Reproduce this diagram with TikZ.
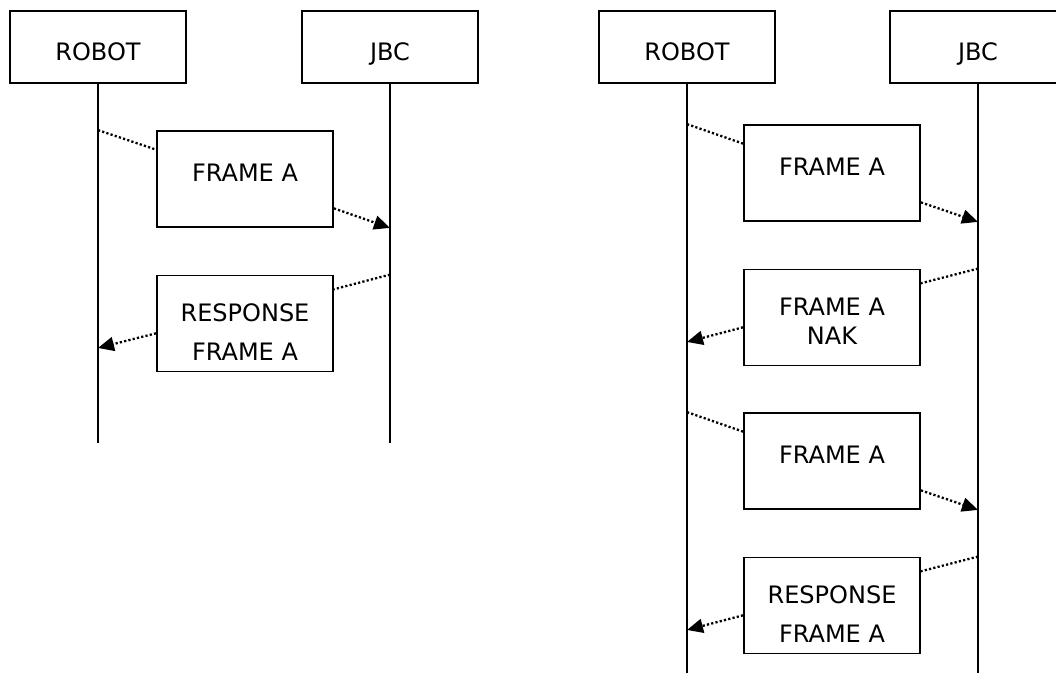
\documentclass[tikz,border=0pt]{standalone}
\usepackage{fontspec}
\setmainfont{DejaVu Sans}
\usetikzlibrary{calc,arrows.meta}

\begin{document}
\begin{tikzpicture}[x=1pt,y=-1pt,
  every node/.style={font=\fontsize{24}{29}\selectfont},
  party/.style={draw,line width=1.8pt,minimum width=176pt,minimum height=72pt,inner sep=0pt,
    text height=26.5pt,text depth=0pt},
  frame/.style={draw,line width=1.8pt,minimum width=176pt,minimum height=96pt,inner sep=0pt,
    align=center,text height=17.5pt,text depth=12pt},
  reply/.style={frame,text height=74.5pt,text depth=0pt},
  nak/.style={frame,text height=54.5pt,text depth=0pt},
  life/.style={line width=1.8pt},
  msg/.style={line width=2.3pt,dash pattern=on 2.2pt off 2.2pt},
  arr/.style={msg,-{Triangle[length=16pt,width=14pt]}}]
\path[use as bounding box,clip] (0,0) rectangle (1056,672);
\node[party] (robotA) at (98,47) {ROBOT};
\node[party] (jbcA) at (390,47) {JBC};
\node[party] (robotB) at (687,47) {ROBOT};
\node[party] (jbcB) at (978,47) {JBC};
\coordinate (endA) at (0,443);
\coordinate (endB) at (0,680);
\draw[life] (robotA.south) -- (robotA.south |- endA);
\draw[life] (jbcA.south) -- (jbcA.south |- endA);
\draw[life] (robotB.south) -- (robotB.south |- endB);
\draw[life] (jbcB.south) -- (jbcB.south |- endB);
\node[frame] (senda) at (245,179) {FRAME A};
\node[reply] (replya) at (245,323.5) {RESPONSE\\[10.5pt]FRAME A};
\node[frame] (sendb) at (832,173) {FRAME A};
\node[nak] (replyb) at (832,317.5) {FRAME A\\[0.5pt]NAK};
\node[frame] (sendc) at (832,461) {FRAME A};
\node[reply] (replyc) at (832,605.5) {RESPONSE\\[10.5pt]FRAME A};
\foreach \m/\rob/\jbc in {a/robotA/jbcA, b/robotB/jbcB, c/robotB/jbcB}{
  \coordinate (tip\m) at ($(reply\m.north)!0.75!(reply\m.south)$);
  \draw[msg] (\rob |- send\m.north) -- ($(send\m.north west)!0.2!(send\m.south west)$);
  \draw[arr] ($(send\m.north east)!0.8!(send\m.south east)$) -- (\jbc |- send\m.south);
  \draw[msg] (\jbc |- reply\m.north) -- ($(reply\m.north east)!0.15!(reply\m.south east)$);
  \draw[arr] ($(reply\m.north west)!0.6!(reply\m.south west)$) -- (\rob |- tip\m);
}
\end{tikzpicture}
\end{document}
